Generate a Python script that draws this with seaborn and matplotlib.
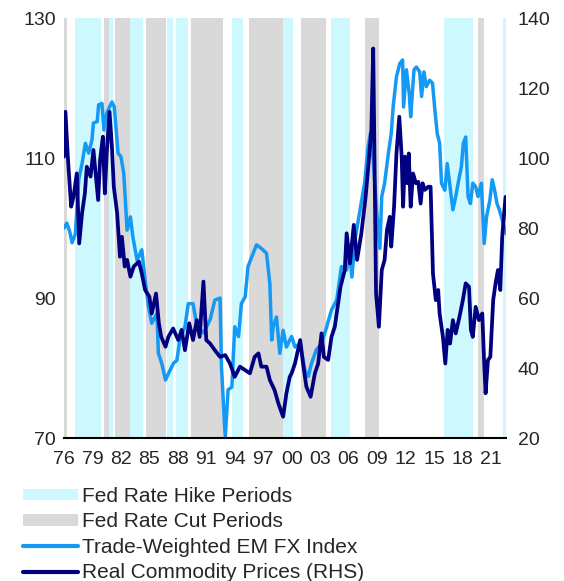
import numpy as np
import pandas as pd
import matplotlib
matplotlib.use("Agg")
import matplotlib.pyplot as plt
import seaborn as sns
from matplotlib.patches import Patch
from matplotlib.lines import Line2D

# Trade-weighted EM FX index (LHS)
fx_years = [1976.0, 1976.3, 1976.6, 1976.85, 1977.2, 1977.55, 1977.9, 1978.25, 1978.6, 1978.95,
            1979.1, 1979.5, 1979.65, 1980.0, 1980.2, 1980.5, 1981.05, 1981.3, 1981.7, 1982.0,
            1982.3, 1982.65, 1983.0, 1983.25, 1983.7, 1984.2, 1984.55, 1984.9, 1985.25, 1985.8,
            1985.95, 1986.3, 1986.7, 1987.0, 1987.3, 1987.55, 1987.9, 1988.2, 1988.75, 1989.1,
            1989.6, 1989.9, 1990.15, 1990.7, 1991.4, 1991.9, 1992.45, 1992.6, 1993.0, 1993.3,
            1993.7, 1994.0, 1994.4, 1994.7, 1995.1, 1995.4, 1995.8, 1996.3, 1996.8, 1997.35,
            1997.7, 1997.9, 1998.05, 1998.4, 1998.75, 1999.1, 1999.45, 1999.8, 2000.0, 2000.35,
            2000.9, 2001.4, 2001.75, 2002.1, 2002.6, 2003.15, 2003.7, 2004.2, 2004.75, 2005.25,
            2005.8, 2006.1, 2006.35, 2006.7, 2007.2, 2007.7, 2008.05, 2008.3, 2008.6, 2008.95,
            2009.3, 2009.5, 2009.8, 2010.2, 2010.5, 2010.7, 2011.05, 2011.4, 2011.7, 2011.8,
            2012.1, 2012.4, 2012.55, 2012.9, 2013.15, 2013.5, 2013.7, 2013.95, 2014.2, 2014.55,
            2014.85, 2015.1, 2015.35, 2015.6, 2015.8, 2016.15, 2016.4, 2016.7, 2017.0, 2017.3,
            2017.55, 2017.9, 2018.1, 2018.35, 2018.6, 2018.85, 2019.1, 2019.4, 2019.65, 2020.0,
            2020.3, 2020.55, 2020.9, 2021.15, 2021.4, 2021.65, 2021.9, 2022.3, 2022.6]
fx_vals = [100.0, 100.7, 99.5, 97.9, 99.2, 106.9, 109.2, 112.1, 110.7, 112.6,
           115.0, 115.2, 117.6, 117.8, 114.0, 116.4, 118.0, 117.3, 110.7, 110.2,
           107.8, 99.7, 101.6, 98.8, 95.4, 96.9, 92.6, 88.8, 86.4, 87.8,
           82.1, 80.7, 78.3, 79.2, 80.0, 80.7, 81.1, 84.0, 85.9, 89.2,
           89.2, 86.9, 85.9, 85.0, 86.9, 89.7, 90.0, 80.2, 70.0, 76.9,
           77.3, 85.9, 84.5, 89.2, 90.2, 94.5, 95.9, 97.6, 97.1, 96.4,
           92.1, 84.0, 85.9, 87.3, 82.1, 85.4, 83.0, 84.0, 84.5, 83.0,
           83.5, 79.7, 78.8, 80.7, 82.6, 83.5, 85.9, 88.3, 89.7, 94.5,
           94.0, 97.0, 93.0, 98.5, 102.5, 106.5, 111.5, 113.5, 109.7, 102.6,
           97.1, 104.5, 106.4, 110.7, 113.5, 117.3, 121.6, 123.5, 124.0, 117.3,
           122.6, 119.2, 115.9, 122.6, 123.0, 122.3, 118.8, 122.3, 120.2, 121.1,
           120.7, 116.9, 113.5, 112.1, 106.4, 105.4, 109.2, 105.9, 102.6, 104.5,
           106.4, 108.8, 112.1, 113.0, 104.5, 103.5, 106.4, 105.9, 104.5, 106.4,
           97.8, 101.6, 104.0, 106.9, 105.4, 103.5, 102.6, 100.7, 99.2]

# Real commodity prices (RHS)
com_years = [1976.0, 1976.15, 1976.4, 1976.75, 1977.0, 1977.35, 1977.6, 1977.9, 1978.2, 1978.4,
             1978.8, 1979.1, 1979.6, 1979.8, 1980.1, 1980.3, 1980.5, 1980.8, 1981.05, 1981.25,
             1981.6, 1981.9, 1982.1, 1982.4, 1982.65, 1983.0, 1983.35, 1983.9, 1984.2, 1984.55,
             1985.0, 1985.25, 1985.7, 1986.0, 1986.25, 1986.7, 1987.0, 1987.5, 1988.05, 1988.4,
             1988.75, 1989.2, 1989.6, 1990.0, 1990.3, 1990.7, 1991.0, 1991.4, 1991.9, 1992.45,
             1993.0, 1993.5, 1994.0, 1994.55, 1995.1, 1995.6, 1996.1, 1996.5, 1996.8, 1997.35,
             1997.7, 1998.2, 1998.6, 1999.1, 1999.45, 1999.8, 2000.0, 2000.35, 2000.9, 2001.2,
             2001.55, 2002.0, 2002.45, 2002.8, 2003.15, 2003.4, 2003.85, 2004.2, 2004.55, 2004.9,
             2005.15, 2005.6, 2005.8, 2006.15, 2006.55, 2006.9, 2007.35, 2007.8, 2008.05, 2008.4,
             2008.6, 2008.9, 2009.2, 2009.5, 2009.8, 2010.05, 2010.35, 2010.5, 2010.8, 2011.05,
             2011.35, 2011.6, 2011.75, 2011.95, 2012.2, 2012.35, 2012.55, 2012.8, 2013.1, 2013.35,
             2013.6, 2013.8, 2014.05, 2014.4, 2014.65, 2014.9, 2015.2, 2015.45, 2015.6, 2015.95,
             2016.2, 2016.45, 2016.7, 2017.0, 2017.3, 2017.7, 2018.05, 2018.35, 2018.7, 2018.9,
             2019.1, 2019.4, 2019.75, 2020.1, 2020.3, 2020.45, 2020.7, 2020.95, 2021.25, 2021.5,
             2021.75, 2022.0, 2022.2, 2022.55]
com_vals = [100.4, 113.2, 100.4, 86.1, 88.9, 95.6, 75.6, 84.2, 89.9, 97.5,
            94.7, 102.3, 88.0, 99.4, 106.1, 89.9, 101.3, 113.2, 103.2, 91.8,
            84.2, 71.8, 77.5, 69.0, 70.9, 66.1, 69.0, 70.4, 67.0, 62.3,
            60.4, 55.6, 61.3, 52.8, 48.9, 46.1, 48.9, 51.3, 48.0, 50.9,
            45.1, 52.8, 48.0, 53.7, 48.9, 64.7, 48.0, 47.0, 45.1, 43.2,
            43.7, 41.3, 37.5, 40.4, 39.4, 38.5, 43.2, 44.2, 40.4, 40.4,
            36.6, 33.7, 29.9, 26.1, 32.8, 37.5, 38.5, 41.3, 48.0, 41.3,
            34.7, 31.8, 38.5, 41.3, 49.9, 43.2, 42.3, 48.9, 51.8, 58.5,
            63.2, 68.0, 78.5, 69.9, 80.9, 70.9, 78.5, 88.9, 96.6, 108.0,
            131.3, 61.3, 51.8, 68.0, 70.9, 79.4, 83.2, 74.7, 86.1, 101.3,
            111.8, 100.4, 86.1, 100.4, 92.8, 101.3, 86.1, 95.6, 92.8, 93.2,
            87.0, 92.8, 90.9, 91.8, 91.8, 67.0, 59.4, 62.3, 55.6, 48.9,
            41.3, 50.9, 47.0, 53.7, 49.9, 54.7, 59.4, 64.2, 63.2, 50.9,
            48.9, 57.5, 53.7, 55.6, 41.3, 32.8, 42.3, 43.2, 59.4, 64.2,
            68.0, 62.3, 77.5, 88.9]

# Fed policy periods
hike_periods = [(1977.16, 1979.87), (1980.77, 1981.19), (1982.95, 1984.29), (1986.82, 1987.45),
                (1987.8, 1989.07), (1993.7, 1994.86), (1999.1, 2000.13), (2004.1, 2006.2),
                (2016.04, 2019.07), (2022.26, 2022.65)]
cut_periods = [(1976.0, 1976.3), (1980.25, 1980.74), (1981.37, 1982.95), (1984.64, 1986.75),
               (1989.35, 1992.72), (1995.5, 1999.04), (2000.97, 2003.6), (2007.72, 2009.16),
               (2019.66, 2020.33)]

tick_years = list(range(1976, 2022, 3))
tick_labels = [f"{y % 100:02d}" for y in tick_years]

sns.set_style("white")
plt.rcParams["font.family"] = ["Liberation Sans", "DejaVu Sans"]

hike_color = "#CCF8FE"
cut_color = "#D9D9D9"
fx_color = "#1499F5"
com_color = "#000080"

fig = plt.figure(figsize=(5.64, 5.81), dpi=100)
ax = fig.add_axes([0.1135, 0.246, 0.7845, 0.723])
ax2 = ax.twinx()

for a, b in hike_periods:
    ax.axvspan(a, b, color=hike_color, lw=0, zorder=0)
for a, b in cut_periods:
    ax.axvspan(a, b, color=cut_color, lw=0, zorder=0)

fx = pd.DataFrame({"year": fx_years, "value": fx_vals})
com = pd.DataFrame({"year": com_years, "value": com_vals})
sns.lineplot(data=fx, x="year", y="value", ax=ax, color=fx_color, lw=2.5)
sns.lineplot(data=com, x="year", y="value", ax=ax2, color=com_color, lw=2.7)

ax.set_xlim(1976.0, 2022.65)
ax.set_ylim(70, 130)
ax2.set_ylim(20, 140)
ax.set_yticks([70, 90, 110, 130])
ax2.set_yticks([20, 40, 60, 80, 100, 120, 140])
ax.set_xticks(tick_years)
ax.set_xticklabels(tick_labels)
for a in (ax, ax2):
    a.set_xlabel("")
    a.set_ylabel("")
    for s in ("top", "left", "right", "bottom"):
        a.spines[s].set_visible(False)
ax.spines["bottom"].set_visible(True)
ax.spines["bottom"].set_color("black")
ax.spines["bottom"].set_linewidth(1.5)
ax.spines["bottom"].set_zorder(5)
ax.tick_params(axis="x", length=0, labelsize=14, pad=9)
ax.tick_params(axis="y", length=0, labelsize=14, pad=6)
ax2.tick_params(axis="y", length=0, labelsize=14, pad=8)
ax.grid(False)
ax2.grid(False)

handles = [Patch(facecolor=hike_color, edgecolor="none"),
           Patch(facecolor=cut_color, edgecolor="none"),
           Line2D([], [], color=fx_color, lw=3),
           Line2D([], [], color=com_color, lw=3)]
labels = ["Fed Rate Hike Periods", "Fed Rate Cut Periods",
          "Trade-Weighted EM FX Index", "Real Commodity Prices (RHS)"]
fig.legend(handles, labels, loc="upper left", bbox_to_anchor=(0.04, 0.162),
           frameon=False, fontsize=15, handlelength=2.65, handleheight=0.5,
           handletextpad=0.2, labelspacing=0.31, borderpad=0, borderaxespad=0)

fig.savefig("out.png", dpi=100)
